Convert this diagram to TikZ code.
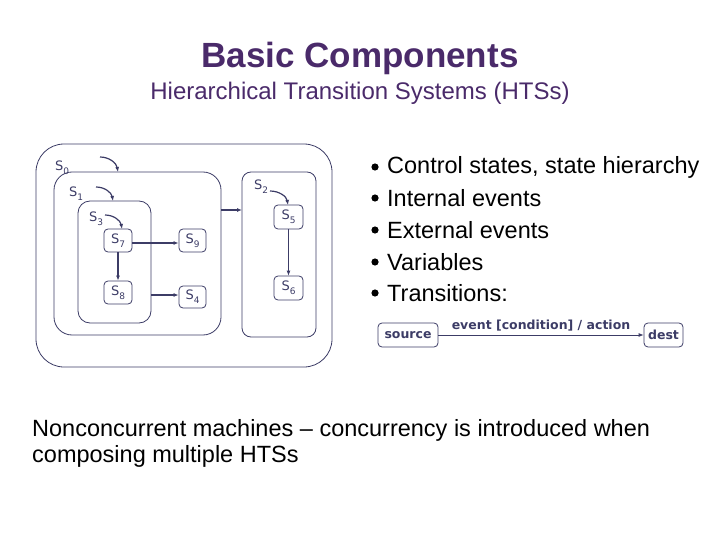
\documentclass[tikz,border=0pt]{standalone}
\usepackage{fontspec}
\setmainfont{Liberation Sans}
\newfontfamily\dv{DejaVu Sans}
\usetikzlibrary{arrows.meta}
\definecolor{nv}{HTML}{3C3C66}
\definecolor{tt}{HTML}{4A2A6A}
\newcommand{\stsub}[2]{#1\raisebox{-0.3em}{\fontsize{9}{10}\selectfont #2}}
\begin{document}
\begin{tikzpicture}[x=1pt,y=-1pt,
 st/.style={draw=nv,line width=0.8pt,rounded corners=4pt},
 bx/.style={draw=nv,line width=0.8pt,rounded corners=#1},
 ar/.style={draw=nv,line width=1.2pt,-{Latex[length=5pt,width=4pt]}},
 lb/.style={font=\dv\fontsize{13}{14}\selectfont,text=nv,inner sep=0pt},
 tl/.style={font=\dv\bfseries\fontsize{12.5}{14}\selectfont,text=nv,inner sep=0pt},
 bl/.style={font=\fontsize{23.5}{26}\selectfont,anchor=west,inner sep=0pt,text=black}]
\useasboundingbox (0,0) rectangle (720,540);
\node[font=\bfseries\fontsize{35}{40}\selectfont,text=tt] (title) at (360,58) {Basic Components};
\node[font=\fontsize{24}{28}\selectfont,text=tt] (sub) at (360,93) {Hierarchical Transition Systems (HTSs)};
% boxes
\draw[bx=28pt] (36,144) rectangle (332,367);
\draw[bx=18pt] (54,172) rectangle (221,335);
\draw[bx=12pt] (78,201) rectangle (151,323);
\draw[bx=9pt] (242,172) rectangle (316,337);
\coordinate (b0) at (221,210); \coordinate (b2) at (242,210);
\coordinate (b1) at (151,295);
\node[st,minimum width=28pt,minimum height=23pt,lb] (s7) at (118,240.5) {\stsub{S}{7}};
\node[st,minimum width=28pt,minimum height=23pt,lb] (s8) at (118,292.5) {\stsub{S}{8}};
\node[st,minimum width=27pt,minimum height=23pt,lb] (s9) at (192.5,240.5) {\stsub{S}{9}};
\node[st,minimum width=27pt,minimum height=22pt,lb] (s4) at (192.5,297) {\stsub{S}{4}};
\node[st,minimum width=29pt,minimum height=24pt,lb] (s5) at (288.5,217) {\stsub{S}{5}};
\node[st,minimum width=29pt,minimum height=24pt,lb] (s6) at (288.5,288) {\stsub{S}{6}};
\node[lb] (l0) at (62,168) {\stsub{S}{0}};
\node[lb] (l1) at (76,194) {\stsub{S}{1}};
\node[lb] (l3) at (96,219) {\stsub{S}{3}};
\node[lb] (l2) at (261,187) {\stsub{S}{2}};
\coordinate (i0a) at (100,157); \coordinate (i0b) at (118,172);
\coordinate (i1a) at (96,187); \coordinate (i1b) at (113,201);
\coordinate (i3a) at (105,215); \coordinate (i3b) at (122,229);
\coordinate (i2a) at (270,191); \coordinate (i2b) at (288,205);
\foreach \a/\b in {i0a/i0b,i1a/i1b,i3a/i3b,i2a/i2b}
  \draw[ar] (\a) to[out=0,in=100] (\b);
\draw[ar] (b0) -- (b2);
\draw[ar] (s7.east |- 0,243) -- (s9.west |- 0,243);
\draw[ar] (b1) -- (s4.west |- b1);
\draw[ar] (s7) -- (s8);
\draw[ar,line width=0.8pt] (s5) -- (s6);
% bullets
\foreach \y/\t [count=\i] in {167/{Control states, state hierarchy},198/{Internal events},230/{External events},262/{Variables},293/{Transitions:}}{
  \fill (375,\y) circle (3.6pt);
  \node[bl] (b\i) at (387,\y) {\t};
}
\node[st,tl,minimum width=60pt,minimum height=24pt] (src) at (408,335) {source};
\node[st,tl,minimum width=39pt,minimum height=24pt] (dst) at (663.5,335) {dest};
\draw[ar,line width=0.8pt] (src) -- node[above=3pt,tl] (ev) {event [condition] / action} (dst);
\node[font=\fontsize{23.5}{26}\selectfont,anchor=north west,align=left,inner sep=0pt] (nc) at (32,419) {Nonconcurrent machines -- concurrency is introduced when\\composing multiple HTSs};
\end{tikzpicture}
\end{document}
